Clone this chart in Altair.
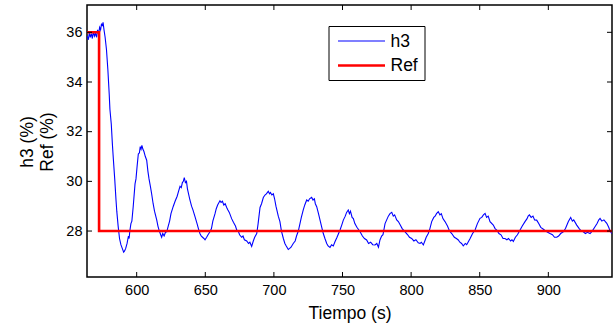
import altair as alt
import pandas as pd

# --- data ---
h3_t = [564.0, 564.8, 565.5, 566.2, 567.0, 567.7, 568.5, 569.2, 570.0, 570.8, 571.5, 572.3, 573.0, 573.7,
        574.4, 575.0, 575.5, 576.2, 577.0, 578.0, 579.0, 580.0, 580.5, 581.5, 582.3, 583.0, 584.0, 585.0,
        585.5, 586.5, 587.5, 588.5, 589.5, 590.5, 591.2, 592.0, 593.0, 594.0, 594.5, 595.0, 595.8, 596.5,
        597.5, 598.8, 599.5, 600.3, 601.2, 602.0, 602.6, 603.2, 603.8, 604.5, 605.3, 606.3, 607.3, 608.2,
        609.0, 610.0, 610.9, 612.0, 613.0, 614.6, 615.5, 616.5, 617.5, 618.2, 619.0, 620.0, 621.0, 621.9,
        623.0, 624.0, 625.0, 626.7, 628.0, 629.5, 630.5, 631.6, 632.5, 633.3, 634.0, 634.7, 635.5, 636.3,
        637.0, 638.8, 640.0, 641.0, 642.5, 644.0, 645.0, 646.1, 647.0, 648.0, 649.0, 649.8, 651.0, 652.0,
        653.4, 654.5, 655.5, 657.1, 658.0, 659.0, 660.0, 660.7, 661.5, 662.5, 663.5, 664.5, 665.6, 666.5,
        667.5, 669.2, 670.5, 672.0, 672.9, 674.0, 675.0, 676.5, 677.5, 678.5, 680.2, 681.5, 682.5, 683.8,
        685.0, 686.0, 687.5, 688.5, 689.9, 691.0, 692.3, 693.5, 694.5, 695.9, 696.8, 697.5, 698.5, 699.6,
        700.5, 701.5, 703.2, 704.4, 705.5, 706.9, 708.0, 709.0, 710.5, 711.5, 712.5, 714.1, 715.5, 716.5,
        717.8, 719.0, 720.0, 721.4, 722.5, 723.9, 725.0, 726.0, 727.5, 728.5, 729.5, 730.2, 731.2, 732.5,
        734.8, 736.0, 737.2, 738.5, 739.5, 740.9, 742.0, 743.3, 744.5, 746.0, 748.2, 749.5, 750.6, 752.0,
        753.0, 754.2, 755.0, 755.8, 757.0, 757.9, 759.0, 760.5, 762.8, 764.5, 766.0, 767.6, 769.0, 770.5,
        772.0, 773.7, 775.0, 776.2, 777.3, 778.5, 779.5, 781.0, 782.2, 783.4, 784.6, 785.9, 787.0, 788.0,
        789.5, 790.7, 792.0, 793.5, 795.6, 797.5, 798.8, 800.4, 802.0, 803.5, 805.2, 806.5, 807.5, 808.9,
        810.0, 811.0, 812.5, 813.7, 815.0, 816.5, 817.5, 818.5, 819.8, 821.0, 822.0, 823.2, 824.7, 826.5,
        828.0, 829.6, 831.5, 833.0, 834.4, 835.5, 836.8, 838.0, 839.5, 840.5, 841.7, 843.0, 844.8, 846.6,
        848.3, 850.2, 851.5, 852.7, 853.9, 855.0, 856.2, 857.5, 859.9, 861.2, 862.4, 864.0, 865.5, 867.0,
        868.4, 869.8, 871.0, 872.5, 873.5, 874.5, 876.0, 877.5, 879.4, 881.0, 883.0, 884.5, 885.3, 886.2,
        887.5, 888.8, 890.0, 891.5, 893.0, 894.5, 896.4, 898.0, 899.5, 901.2, 903.0, 904.5, 906.1, 907.5,
        909.0, 910.9, 912.5, 914.6, 916.3, 917.5, 918.5, 920.7, 922.5, 924.0, 925.5, 927.0, 928.5, 930.4,
        932.0, 934.0, 935.5, 936.8, 937.7, 939.0, 940.5, 942.6, 944.0, 945.0, 946.2]
h3_v = [35.85, 35.7, 36.0, 35.8, 35.95, 35.75, 36.05, 35.85, 35.95, 35.8, 36.1, 35.95, 36.2, 36.1,
        36.35, 36.25, 36.4, 36.1, 35.8, 35.3, 34.5, 33.5, 32.9, 32.3, 31.5, 30.9, 30.1, 29.2,
        28.8, 28.2, 27.7, 27.45, 27.3, 27.15, 27.2, 27.3, 27.5, 27.8, 27.7, 28.0, 28.3, 28.4,
        29.0, 29.9, 30.1, 30.6, 31.1, 31.15, 31.4, 31.3, 31.45, 31.3, 31.2, 31.0, 30.85, 30.4,
        30.1, 29.8, 29.5, 29.1, 28.8, 28.45, 28.2, 28.0, 27.85, 27.75, 27.9, 27.8, 27.95, 27.97,
        28.2, 28.4, 28.7, 29.0, 29.2, 29.4, 29.6, 29.8, 29.75, 29.95, 30.0, 30.15, 29.95, 30.0,
        29.7, 29.25, 29.0, 28.85, 28.58, 28.3, 28.1, 27.9, 27.8, 27.75, 27.7, 27.65, 27.75, 27.85,
        27.97, 28.1, 28.4, 28.7, 28.9, 29.05, 29.15, 29.22, 29.15, 29.2, 29.05, 29.1, 28.95, 28.85,
        28.75, 28.5, 28.35, 28.2, 28.05, 28.0, 27.85, 27.75, 27.8, 27.65, 27.6, 27.5, 27.55, 27.38,
        27.6, 27.75, 27.9, 28.3, 28.95, 29.1, 29.35, 29.45, 29.5, 29.6, 29.5, 29.55, 29.45, 29.5,
        29.3, 29.0, 28.6, 28.38, 28.0, 27.7, 27.5, 27.4, 27.26, 27.3, 27.35, 27.5, 27.6, 27.8,
        28.0, 28.3, 28.55, 28.85, 29.05, 29.25, 29.2, 29.3, 29.36, 29.25, 29.3, 29.1, 28.98, 28.7,
        28.17, 27.9, 27.7, 27.5, 27.4, 27.34, 27.45, 27.4, 27.57, 27.75, 28.04, 28.25, 28.44, 28.6,
        28.75, 28.85, 28.7, 28.8, 28.55, 28.5, 28.3, 28.15, 27.97, 27.8, 27.7, 27.64, 27.5, 27.55,
        27.45, 27.44, 27.5, 27.35, 27.64, 27.8, 27.85, 28.3, 28.45, 28.6, 28.7, 28.75, 28.6, 28.65,
        28.45, 28.38, 28.25, 28.1, 27.97, 27.85, 27.75, 27.7, 27.6, 27.65, 27.53, 27.5, 27.55, 27.44,
        27.6, 27.75, 27.9, 28.1, 28.38, 28.55, 28.6, 28.7, 28.78, 28.65, 28.7, 28.5, 28.38, 28.2,
        28.0, 27.9, 27.75, 27.7, 27.64, 27.55, 27.5, 27.4, 27.5, 27.45, 27.57, 27.7, 27.9, 28.04,
        28.3, 28.51, 28.55, 28.65, 28.71, 28.55, 28.6, 28.38, 28.24, 28.1, 28.04, 27.9, 27.85, 27.7,
        27.7, 27.65, 27.7, 27.6, 27.65, 27.58, 27.75, 27.85, 28.04, 28.2, 28.38, 28.5, 28.6, 28.65,
        28.55, 28.6, 28.45, 28.44, 28.3, 28.15, 28.07, 28.0, 27.95, 27.9, 27.85, 27.75, 27.75, 27.8,
        27.9, 27.97, 28.1, 28.38, 28.55, 28.4, 28.45, 28.24, 28.1, 28.0, 27.97, 27.9, 27.95, 27.9,
        28.0, 28.17, 28.3, 28.45, 28.51, 28.4, 28.45, 28.31, 28.15, 28.0, 27.9]

ref_t = [564.0, 572.6, 572.6, 946.4]
ref_v = [36.0, 36.0, 28.0, 28.0]

x_ticks = [600, 650, 700, 750, 800, 850, 900]
y_ticks = [28, 30, 32, 34, 36]

y_title_lines = ["h3 (%)", "Ref (%)"]
x_title = "Tiempo (s)"
legend_names = ["h3", "Ref"]

x_domain = [563.8, 946.4]
y_domain = [26.15, 37.1]

FONT = "Liberation Sans"
W, H = 525, 272

h3_df = pd.DataFrame({"t": h3_t, "v": h3_v, "i": range(len(h3_t))})
ref_df = pd.DataFrame({"t": ref_t, "v": ref_v, "i": range(len(ref_t))})
xt_df = pd.DataFrame({"t": x_ticks})
yt_df = pd.DataFrame({"v": y_ticks})
one = pd.DataFrame({"a": [0]})

xs = alt.Scale(domain=x_domain, nice=False, zero=False)
ys = alt.Scale(domain=y_domain, nice=False, zero=False)

x_axis = alt.Axis(values=x_ticks, grid=False, ticks=False, domain=False,
                  labelFont=FONT, labelFontSize=14.5, labelColor="#000", labelPadding=6,
                  title=x_title, titleFont=FONT, titleFontSize=17.5, titleFontWeight="normal",
                  titleColor="#000", titleY=41, titleBaseline="alphabetic")
y_axis = alt.Axis(values=y_ticks, grid=False, ticks=False, domain=False,
                  labelFont=FONT, labelFontSize=14.5, labelColor="#000", labelPadding=5,
                  title=None)

h3_line = alt.Chart(h3_df).mark_line(color="#0000FF", strokeWidth=1.1, clip=True).encode(
    x=alt.X("t:Q", scale=xs, axis=x_axis),
    y=alt.Y("v:Q", scale=ys, axis=y_axis),
    order="i:Q",
)
ref_line = alt.Chart(ref_df).mark_line(color="#FF0000", strokeWidth=2.6, clip=True).encode(
    x=alt.X("t:Q", scale=xs),
    y=alt.Y("v:Q", scale=ys),
    order="i:Q",
)

tick_style = dict(color="#000", strokeWidth=1)
bx = alt.Chart(xt_df).mark_rule(**tick_style).encode(x=alt.X("t:Q", scale=xs), y=alt.value(H - 5), y2=alt.value(H))
tx = alt.Chart(xt_df).mark_rule(**tick_style).encode(x=alt.X("t:Q", scale=xs), y=alt.value(0), y2=alt.value(5))
ly = alt.Chart(yt_df).mark_rule(**tick_style).encode(y=alt.Y("v:Q", scale=ys), x=alt.value(0), x2=alt.value(5))
ry = alt.Chart(yt_df).mark_rule(**tick_style).encode(y=alt.Y("v:Q", scale=ys), x=alt.value(W - 5), x2=alt.value(W))

# y-axis title as two rotated lines
yt1 = alt.Chart(one).mark_text(text=y_title_lines[0], font=FONT, fontSize=17.5, color="#000", angle=270,
                               align="center", baseline="middle").encode(x=alt.value(-59), y=alt.value(137))
yt2 = alt.Chart(one).mark_text(text=y_title_lines[1], font=FONT, fontSize=17.5, color="#000", angle=270,
                               align="center", baseline="middle").encode(x=alt.value(-39), y=alt.value(137))

# legend box (drawn like MATLAB's)
lg_box = alt.Chart(one).mark_rect(fill="white", stroke="#000", strokeWidth=1).encode(
    x=alt.value(242), x2=alt.value(338), y=alt.value(21.5), y2=alt.value(75.5))
lg_h3 = alt.Chart(one).mark_rule(color="#0000FF", strokeWidth=1.1).encode(
    x=alt.value(251), x2=alt.value(298), y=alt.value(36))
lg_ref = alt.Chart(one).mark_rule(color="#FF0000", strokeWidth=2.6).encode(
    x=alt.value(251), x2=alt.value(298), y=alt.value(60.5))
lg_t1 = alt.Chart(one).mark_text(text=legend_names[0], font=FONT, fontSize=17.5, color="#000",
                                 align="left", baseline="middle").encode(x=alt.value(303.5), y=alt.value(36.5))
lg_t2 = alt.Chart(one).mark_text(text=legend_names[1], font=FONT, fontSize=17.5, color="#000",
                                 align="left", baseline="middle").encode(x=alt.value(303.5), y=alt.value(61))

chart = alt.layer(h3_line, ref_line, bx, tx, ly, ry, yt1, yt2, lg_box, lg_h3, lg_ref, lg_t1, lg_t2).properties(
    width=W, height=H,
    autosize=alt.AutoSizeParams(type="none"),
    padding={"left": 87, "top": 5, "right": 1, "bottom": 49},
    background="white",
).configure_view(stroke="#000", strokeWidth=1.5)

chart.save("out.html", embed_options={"renderer": "svg", "actions": False})
